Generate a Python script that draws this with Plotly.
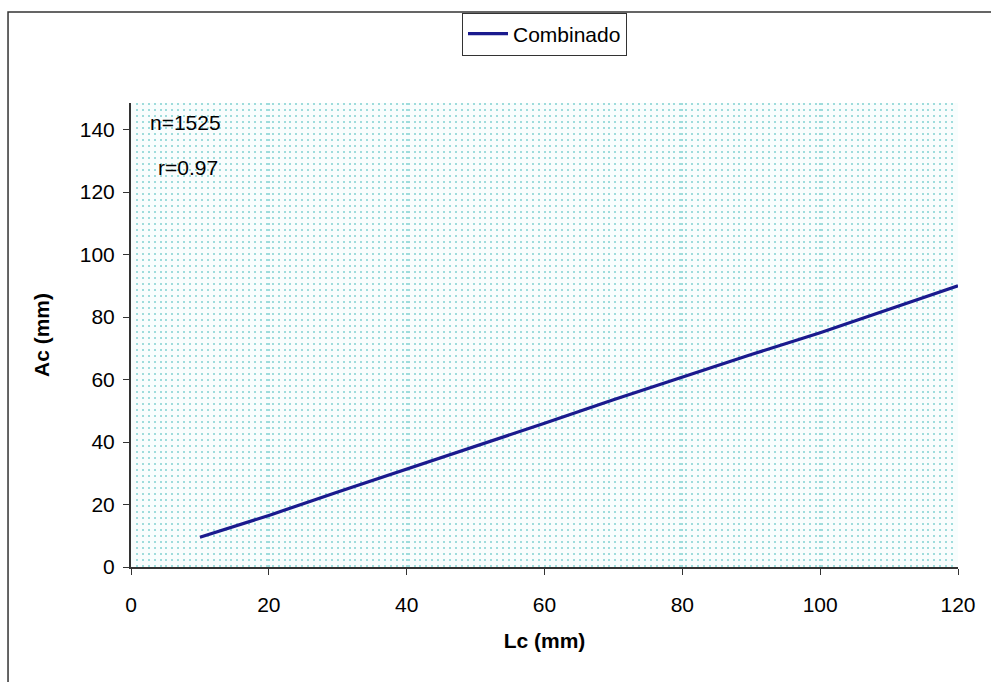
import plotly.graph_objects as go

# Combined length (Lc) vs. width (Ac) relationship, both in mm
lc_mm = [10, 20, 30, 40, 50, 60, 70, 80, 90, 100, 110, 120]
ac_mm = [9.5, 16.5, 24.0, 31.3, 38.5, 46.0, 53.5, 60.8, 68.0, 75.0, 82.5, 90.0]

series_name = "Combinado"
stats_labels = ["n=1525", "r=0.97"]
x_ticks = [0, 20, 40, 60, 80, 100, 120]
y_ticks = [0, 20, 40, 60, 80, 100, 120, 140]

font_family = "Liberation Sans, Arial, sans-serif"
dot_color = "#9edcdc"
dot_dash = "2px,4px"

fig = go.Figure()
fig.add_trace(go.Scatter(
    x=lc_mm, y=ac_mm, mode="lines", name=series_name,
    line=dict(color="#1a1a8e", width=3.2),
))

fig.update_layout(
    width=991, height=682,
    margin=dict(l=131, r=33, t=97, b=115),
    paper_bgcolor="white",
    plot_bgcolor="#f8fdfd",
    font=dict(family=font_family, size=21, color="black"),
    showlegend=True,
    legend=dict(
        x=0.5, y=1.195, xanchor="center", yanchor="top",
        orientation="h",
        bordercolor="#333333", borderwidth=1,
        bgcolor="white",
        font=dict(size=21),
        itemwidth=40,
    ),
    # dot pattern: vertical dotted lines whose dash period gives the row spacing
    xaxis=dict(
        range=[0, 120], tickvals=x_ticks,
        showline=True, linecolor="#333333", linewidth=2,
        ticks="outside", ticklen=6, tickcolor="#333333",
        ticklabelstandoff=12,
        tickfont=dict(size=21),
        showgrid=True, gridcolor=dot_color, gridwidth=2, griddash=dot_dash,
        minor=dict(dtick=0.8571429, showgrid=True, gridcolor=dot_color,
                   gridwidth=2, griddash=dot_dash),
        zeroline=False,
        title=dict(text="<b>Lc (mm)</b>", standoff=18, font=dict(size=21)),
        automargin=False,
    ),
    yaxis=dict(
        range=[0, 148.5], tickvals=y_ticks,
        showline=True, linecolor="#333333", linewidth=2,
        ticks="outside", ticklen=6, tickcolor="#333333",
        ticklabelstandoff=4,
        tickfont=dict(size=21),
        showgrid=False,
        zeroline=False,
        title=dict(text="<b>Ac (mm)</b>", standoff=24, font=dict(size=21)),
        automargin=False,
    ),
)

# Statistics in the upper-left corner of the plot area
fig.add_annotation(xref="paper", yref="paper", x=0.021, y=0.958,
                   text=stats_labels[0], showarrow=False,
                   xanchor="left", yanchor="middle", font=dict(size=21))
fig.add_annotation(xref="paper", yref="paper", x=0.030, y=0.862,
                   text=stats_labels[1], showarrow=False,
                   xanchor="left", yanchor="middle", font=dict(size=21))

# Outer frame around the whole chart
fig.add_shape(type="rect", xref="paper", yref="paper",
              x0=-0.1487, x1=1.06, y0=-0.3, y1=1.196,
              line=dict(color="#333333", width=1.5), layer="below")

fig.write_html("out.html")
